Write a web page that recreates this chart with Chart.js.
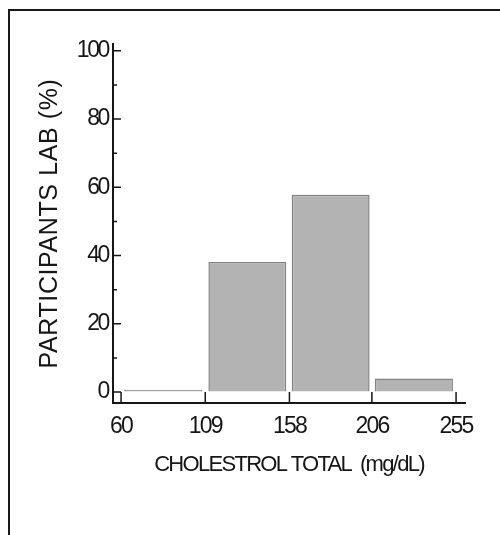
<!DOCTYPE html>
<html>
<head>
<meta charset="utf-8">
<script src="https://cdn.jsdelivr.net/npm/chart.js@4/dist/chart.umd.min.js"></script>
<style>
  html, body { margin: 0; padding: 0; background: #ffffff; }
  #wrap { position: relative; width: 500px; height: 535px; }
  #frame { position: absolute; left: 8px; top: 9px; width: 492px; height: 526px;
           border-top: 2px solid #1a1a1a; border-left: 2px solid #1a1a1a; box-sizing: border-box; pointer-events: none; }
  canvas { display: block; }
</style>
</head>
<body>
<div id="wrap">
  <canvas id="c" width="500" height="535"></canvas>
  <div id="frame"></div>
</div>
<script>
// ---- data ----
const binEdges = [60, 109, 158, 206, 255];          // x tick labels (mg/dL)
const percentages = [0.7, 38.1, 57.8, 4.0];          // % of participant labs per bin
const yTicks = [0, 20, 40, 60, 80, 100];
const yMinorTicks = [10, 30, 50, 70, 90];
const xTitle = 'CHOLESTROL TOTAL  (mg/dL)';
const yTitle = 'PARTICIPANTS LAB (%)';

const barData = percentages.map((v, i) => ({ x: (binEdges[i] + binEdges[i + 1]) / 2, y: v }));

const sans = "'Liberation Sans', Arial, Helvetica, sans-serif";
const ink = '#161616';

function withSpacing(scale, method, spacing) {
  const orig = scale[method].bind(scale);
  scale[method] = function (...a) {
    const ctx = this.ctx;
    ctx.save();
    ctx.letterSpacing = spacing;
    orig(...a);
    ctx.restore();
  };
}

const tickMarks = {
  id: 'tickMarks',
  beforeDraw(chart) {
    const xs = chart.scales.x, ys = chart.scales.y;
    if (!xs._lsPatched) {
      withSpacing(xs, 'drawLabels', '-1.8px');
      withSpacing(xs, 'drawTitle', '-1.7px');
      xs._lsPatched = true;
    }
    if (!ys._lsPatched) {
      withSpacing(ys, 'drawLabels', '-2.4px');
      withSpacing(ys, 'drawTitle', '0.6px');
      ys._lsPatched = true;
    }
  },
  afterDraw(chart) {
    const ctx = chart.ctx;
    const xs = chart.scales.x, ys = chart.scales.y;
    const ax = chart.chartArea.left, ay = chart.chartArea.bottom;
    ctx.save();
    ctx.strokeStyle = ink;
    ctx.lineWidth = 1.5;
    ctx.beginPath();
    yTicks.forEach(v => { const p = ys.getPixelForValue(v); ctx.moveTo(ax, p); ctx.lineTo(ax + 8, p); });
    yMinorTicks.forEach(v => { const p = ys.getPixelForValue(v); ctx.moveTo(ax, p); ctx.lineTo(ax + 4, p); });
    binEdges.forEach(v => { const p = xs.getPixelForValue(v); ctx.moveTo(p, ay); ctx.lineTo(p, ay - 11); });
    ctx.stroke();
    ctx.restore();
  }
};

new Chart(document.getElementById('c'), {
  type: 'bar',
  data: {
    datasets: [{
      data: barData,
      backgroundColor: '#b3b3b3',
      borderColor: '#828282',
      borderWidth: 1.5,
      barPercentage: 0.945,
      categoryPercentage: 1.0
    }]
  },
  options: {
    responsive: false,
    animation: false,
    events: [],
    layout: { padding: { left: 0, top: 44, right: 35, bottom: 0 } },
    plugins: { legend: { display: false }, tooltip: { enabled: false } },
    scales: {
      x: {
        type: 'linear',
        offset: false,
        min: 55.3,
        max: 260.2,
        afterBuildTicks: s => { s.ticks = binEdges.map(v => ({ value: v })); },
        afterFit: s => { s.height = 132; },
        grid: { display: true, drawOnChartArea: false, drawTicks: false, offset: false },
        border: { display: true, color: ink, width: 2 },
        ticks: { color: ink, padding: 10, autoSkip: false, maxRotation: 0,
                 font: { family: sans, size: 23 }, callback: v => String(v) },
        title: { display: true, text: xTitle, color: ink,
                 font: { family: sans, size: 22 }, padding: { top: 0, bottom: 57 } }
      },
      y: {
        min: -3.2,
        max: 102,
        afterBuildTicks: s => { s.ticks = yTicks.map(v => ({ value: v })); },
        afterFit: s => { s.width = 113; },
        grid: { display: true, drawOnChartArea: false, drawTicks: false },
        border: { display: true, color: ink, width: 2 },
        ticks: { color: ink, padding: 5, font: { family: sans, size: 23 }, callback: v => String(v) },
        title: { display: true, text: yTitle, color: ink,
                 font: { family: sans, size: 25 }, padding: { top: 35, bottom: 0 } }
      }
    }
  },
  plugins: [tickMarks]
});
</script>
</body>
</html>
